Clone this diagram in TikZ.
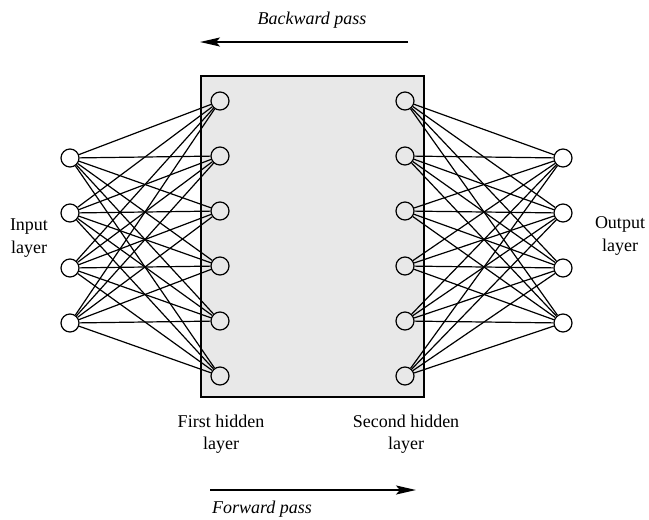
\documentclass[tikz,border=0pt]{standalone}
\usepackage{fontspec}
\setmainfont{Liberation Serif}
\usetikzlibrary{arrows.meta}
\begin{document}
\begin{tikzpicture}[x=1pt,y=-1pt,
  neuron/.style={circle,draw,line width=1.2pt,minimum size=18pt,inner sep=0pt},
  link/.style={line width=1.2pt},
  lbl/.style={font=\fontsize{18}{22.5}\selectfont,align=center},
  passlbl/.style={font=\fontsize{18}{22}\selectfont\itshape},
  passarrow/.style={line width=2pt,-{Stealth[length=20pt,width=9pt,inset=4pt]}}]
\useasboundingbox (0,0) rectangle (649,520);
\node[draw,line width=1.5pt,fill=black!9,minimum width=223pt,minimum height=321pt,inner sep=0pt] (box) at (312.5,236.5) {};
\foreach \i/\y in {1/158,2/213,3/268,4/323}{
  \node[neuron] (in\i) at (70,\y) {};
  \node[neuron] (out\i) at (563,\y) {};
}
\foreach \j in {1,...,6}{
  \pgfmathsetmacro\yy{101+55*(\j-1)}
  \node[neuron] (ha\j) at (220,\yy) {};
  \node[neuron] (hb\j) at (405,\yy) {};
}
\foreach \i in {1,...,4}{
  \foreach \j in {1,...,6}{
    \draw[link] (in\i) -- (ha\j);
    \draw[link] (hb\j) -- (out\i);
  }
}
\node[lbl] (inlbl) at (29,238) {Input\\layer};
\node[lbl] (outlbl) at (620,236) {Output\\layer};
\node[lbl] (h1lbl) at (221,434) {First hidden\\layer};
\node[lbl] (h2lbl) at (406,434) {Second hidden\\layer};
\node[passlbl] (bwlbl) at (312,20) {Backward pass};
\coordinate (bws) at (408,42);
\coordinate (bwe) at (200,42);
\draw[passarrow] (bws) -- (bwe);
\coordinate (fws) at (210,490);
\coordinate (fwe) at (416,490);
\draw[passarrow] (fws) -- (fwe);
\node[passlbl] (fwlbl) at (262,509) {Forward pass};
\end{tikzpicture}
\end{document}
